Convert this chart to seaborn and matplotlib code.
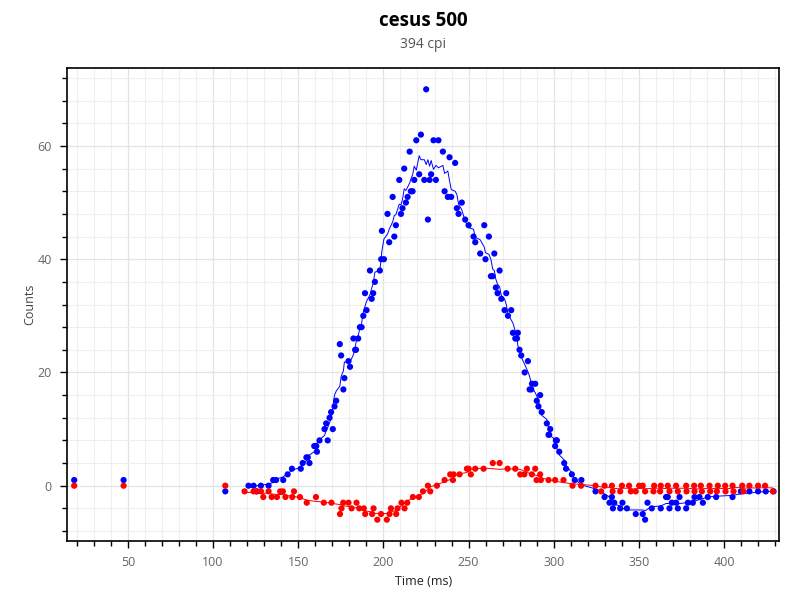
import numpy as np
import pandas as pd
import matplotlib
matplotlib.use("Agg")
import matplotlib.pyplot as plt
from matplotlib.ticker import MultipleLocator
import seaborn as sns

# ---------------- data ----------------
blue_time = [18.5, 47.5, 107.2,
             120.8, 123.8, 125.7, 128.1, 132.6, 135.3, 137.0, 141.2, 143.8, 146.3,
             151.5, 152.6, 154.8, 155.6, 156.6, 159.4, 160.6, 161.0, 162.5, 165.4,
             166.4, 167.3, 168.4, 169.3, 170.3, 171.3, 172.3, 174.4, 175.2, 176.5,
             177.1, 179.5, 180.4, 182.4, 183.4, 183.9, 185.2, 186.2, 187.2, 188.2,
             189.2, 190.1, 192.1, 193.1, 194.0, 195.0, 197.9, 198.7, 199.1, 200.3,
             202.4, 203.4, 205.4, 206.4, 207.3, 209.3, 210.3, 211.2, 212.2, 213.2,
             214.2, 215.4, 216.1, 217.1, 218.1, 219.3, 221.0, 222.0, 224.0, 225.1,
             226.1, 227.1, 228.0, 229.4, 230.8, 232.3, 234.9, 235.9, 237.8, 238.8,
             239.8, 242.1, 243.1, 244.1, 246.0, 248.0, 250.0, 252.9, 253.9, 256.8,
             259.2, 259.9, 261.9, 263.1, 264.1, 265.1, 266.0, 267.0, 268.2, 269.2,
             271.1, 272.1, 273.1, 275.0, 276.0, 277.4, 278.4, 278.9, 279.9, 280.9,
             282.9, 284.8, 285.8, 286.8, 287.2, 289.1, 290.0, 291.0, 292.0, 292.9,
             295.9, 296.9, 297.3, 297.9, 300.8, 301.2, 301.8, 303.2, 306.1, 307.2,
             310.6, 312.3, 316.2, 324.5, 329.8, 332.7, 334.1, 334.7, 335.5, 339.0,
             340.3, 342.9, 348.1, 352.2, 353.6, 355.0, 357.5, 362.8, 365.9, 366.9,
             367.9, 369.3, 371.8, 372.8, 373.8, 377.7, 378.7, 381.6, 382.6, 385.5,
             387.5, 390.4, 395.3, 404.9, 409.8, 414.8, 419.9, 424.4, 429.0]
blue_counts = [1, 1, -1,
               0, 0, -1, 0, 0, 1, 1, 1, 2, 3,
               3, 4, 5, 5, 4, 7, 7, 6, 8, 10,
               11, 8, 12, 13, 10, 14, 15, 25, 23, 17,
               19, 22, 21, 26, 24, 24, 26, 28, 28, 30,
               34, 31, 38, 33, 34, 36, 38, 40, 45, 40,
               48, 43, 51, 44, 46, 54, 48, 49, 56, 50,
               51, 59, 52, 52, 54, 61, 55, 62, 54, 70,
               47, 54, 55, 61, 54, 61, 59, 52, 51, 58,
               51, 57, 49, 48, 50, 47, 46, 44, 43, 41,
               46, 40, 44, 37, 37, 41, 35, 34, 38, 33,
               31, 34, 30, 31, 27, 26, 26, 27, 24, 23,
               20, 22, 17, 17, 18, 18, 15, 14, 16, 13,
               11, 9, 9, 10, 7, 8, 8, 6, 4, 3,
               2, 1, 1, -1, -2, -3, -2, -4, -3, -4,
               -3, -4, -5, -5, -6, -3, -4, -4, -2, -2,
               -4, -3, -3, -4, -2, -4, -3, -3, -2, -2,
               -3, -2, -2, -2, -1, -1, -1, -1, -1]

red_time = [18.5, 47.5, 107.2,
            118.5, 123.8, 125.4, 128.1, 129.5, 132.6, 134.4, 137.5, 139.4, 141.0,
            142.5, 146.5, 147.5, 151.0, 155.0, 160.4, 165.0, 169.5, 174.5, 175.4,
            176.4, 179.5, 181.3, 184.2, 185.8, 188.5, 189.3, 193.4, 194.2, 196.4,
            198.6, 202.0, 203.6, 204.4, 207.5, 208.3, 210.6, 212.4, 214.0, 217.3,
            220.8, 223.2, 226.1, 227.5, 231.4, 235.9, 239.2, 240.8, 241.2, 244.7,
            249.0, 250.0, 251.3, 253.9, 258.8, 264.2, 268.2, 272.9, 277.4, 280.3,
            282.7, 284.2, 287.1, 289.1, 289.9, 292.0, 292.4, 296.9, 300.8, 305.7,
            311.0, 316.0, 324.5, 327.8, 329.8, 334.1, 334.5, 339.0, 340.0, 344.2,
            345.2, 348.1, 350.1, 352.2, 353.6, 358.5, 358.9, 362.4, 362.8, 366.9,
            367.9, 371.8, 372.8, 377.7, 377.9, 382.4, 382.6, 386.3, 386.9, 391.4,
            391.8, 395.7, 396.3, 400.6, 400.8, 404.9, 405.5, 410.6, 411.3, 414.8,
            419.9, 424.0, 428.6]
red_counts = [0, 0, 0,
              -1, -1, -1, -1, -2, -1, -2, -2, -1, -1,
              -2, -2, -1, -2, -3, -2, -3, -3, -5, -4,
              -3, -3, -4, -3, -4, -4, -5, -5, -4, -6,
              -5, -6, -5, -4, -5, -4, -3, -4, -3, -2,
              -2, -1, 0, -1, 0, 1, 2, 1, 2, 2,
              3, 3, 2, 3, 3, 4, 4, 3, 3, 2,
              2, 3, 2, 3, 1, 2, 1, 1, 1, 1,
              0, 0, 0, -1, 0, 0, -1, -1, 0, 0,
              -1, -1, 0, 0, -1, -1, 0, -1, 0, 0,
              -1, 0, -1, 0, -1, 0, -1, 0, -1, 0,
              -1, -1, 0, 0, -1, 0, -1, 0, -1, 0,
              0, 0, -1]

title = "cesus 500"
subtitle = "394 cpi"
x_label = "Time (ms)"
y_label = "Counts"

# ---------------- frames ----------------
blue = pd.DataFrame({"time": blue_time, "counts": blue_counts})
red = pd.DataFrame({"time": red_time, "counts": red_counts})

# smoothed trace (running mean over the continuous section of each series)
def smooth(df, window=7):
    d = df[df["time"] > 115].sort_values("time").copy()
    d["smooth"] = d["counts"].rolling(window, center=True, min_periods=1).mean()
    return d

blue_s = smooth(blue)
red_s = smooth(red, window=9)

# ---------------- figure ----------------
sns.set_theme(style="white")
plt.rcParams["font.family"] = ["Open Sans", "DejaVu Sans"]

fig = plt.figure(figsize=(8, 6), dpi=100)
ax_left, ax_w = 0.084, 0.89
ax = fig.add_axes([ax_left, 0.098, ax_w, 0.789])

BLUE = "#0000ff"
RED = "#ff0000"

sns.lineplot(data=blue_s, x="time", y="smooth", ax=ax, color=BLUE, lw=0.7,
             estimator=None, sort=True, zorder=2)
sns.lineplot(data=red_s, x="time", y="smooth", ax=ax, color=RED, lw=0.7,
             estimator=None, sort=True, zorder=2)
sns.scatterplot(data=blue, x="time", y="counts", ax=ax, color=BLUE, s=20,
                edgecolor="none", zorder=3)
sns.scatterplot(data=red, x="time", y="counts", ax=ax, color=RED, s=20,
                edgecolor="none", zorder=3)

ax.set_xlim(14.4, 432.3)
ax.set_ylim(-9.8, 73.8)

ax.xaxis.set_major_locator(MultipleLocator(50))
ax.xaxis.set_minor_locator(MultipleLocator(10))
ax.yaxis.set_major_locator(MultipleLocator(20))
ax.yaxis.set_minor_locator(MultipleLocator(4))

ax.grid(which="major", color="#e3e3e3", lw=0.9)
ax.grid(which="minor", color="#efefef", lw=0.8)
ax.set_axisbelow(True)

for sp in ax.spines.values():
    sp.set_visible(True)
    sp.set_color("black")
    sp.set_linewidth(1.2)

ax.tick_params(which="major", direction="out", length=5, width=1, color="black",
               labelsize=9, labelcolor="#666666", bottom=True, left=True, pad=6)
ax.tick_params(which="minor", direction="out", length=3.5, width=1, color="black",
               bottom=True, left=True)

ax.set_xlabel(x_label, fontsize=9, color="#222222", labelpad=4)
ax.set_ylabel(y_label, fontsize=9, color="#444444", labelpad=1)

cx = ax_left + ax_w / 2
fig.text(cx, 0.965, title, ha="center", va="center", fontsize=13.5,
         fontweight="bold", color="black")
fig.text(cx, 0.925, subtitle, ha="center", va="center", fontsize=10,
         color="#555555")

fig.savefig("out.png", dpi=100)
